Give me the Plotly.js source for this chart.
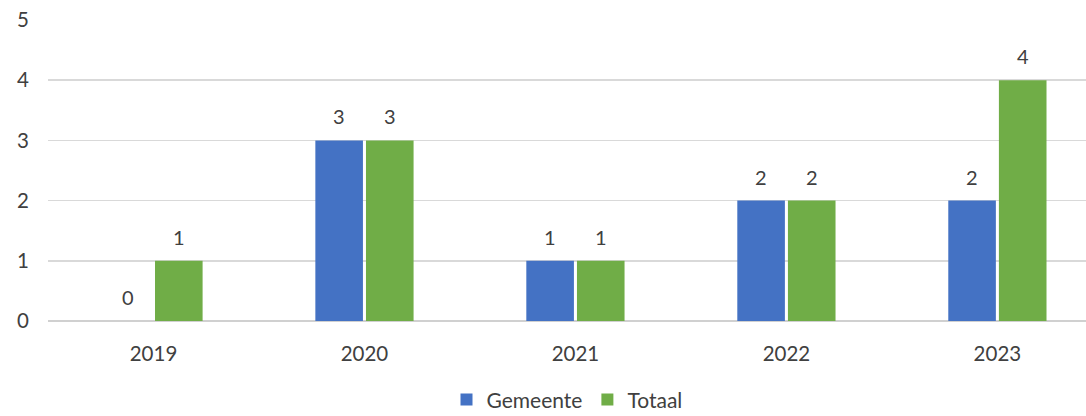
<!DOCTYPE html>
<html>
<head>
<meta charset="utf-8">
<script src="https://cdn.plot.ly/plotly-3.0.1.min.js"></script>
<style>html,body{margin:0;padding:0;background:#fff;overflow:hidden;}#chart{width:1086px;height:416px;}</style>
</head>
<body>
<div id="chart"></div>
<script>
const years = ['2019', '2020', '2021', '2022', '2023'];
const gemeente = [0, 3, 1, 2, 2];
const totaal = [1, 3, 1, 2, 4];
const seriesNames = ['Gemeente', 'Totaal'];
const seriesColors = ['#4472C4', '#70AD47'];
const yTicks = [0, 1, 2, 3, 4, 5];

const FONT = 'Lato, "Open Sans", sans-serif';
const series = [gemeente, totaal];

const traces = series.map((vals, i) => ({
  type: 'bar',
  name: seriesNames[i],
  x: years,
  y: vals,
  marker: {color: seriesColors[i]},
  hoverinfo: 'x+y'
}));

const annotations = [];
series.forEach((vals, i) => {
  vals.forEach((v, j) => {
    annotations.push({
      x: j + (i === 0 ? -0.12 : 0.12), y: v, xref: 'x', yref: 'y',
      text: String(v), showarrow: false,
      yshift: 24,
      yanchor: 'middle', xanchor: 'center',
      font: {family: FONT, size: 20, color: '#404040'}
    });
  });
});

const layout = {
  width: 1086, height: 416,
  margin: {l: 48, r: 0, t: 20, b: 95, autoexpand: false},
  paper_bgcolor: '#ffffff', plot_bgcolor: '#ffffff',
  barmode: 'group', bargap: 0.52, bargroupgap: 0.06,
  font: {family: FONT, size: 20, color: '#404040'},
  xaxis: {
    type: 'category', range: [-0.5, 4.42],
    showgrid: false, zeroline: false, showline: false,
    ticks: '', ticklabelstandoff: 18,
    tickfont: {family: FONT, size: 20.5, color: '#404040'}
  },
  yaxis: {
    range: [0, 5], tickvals: yTicks,
    showgrid: true, gridcolor: '#d9d9d9', gridwidth: 1.5,
    zeroline: true, zerolinecolor: '#d0d0d0', zerolinewidth: 1.5,
    showline: false, ticks: '', ticklabelstandoff: 18,
    tickfont: {family: FONT, size: 20.5, color: '#404040'}
  },
  showlegend: true,
  legend: {
    orientation: 'h', x: 0.5, xanchor: 'center', y: -0.262, yanchor: 'middle',
    font: {family: FONT, size: 21, color: '#404040'},
    itemwidth: 30, tracegroupgap: 0
  },
  annotations: annotations
};

Plotly.newPlot('chart', traces, layout, {displayModeBar: false, staticPlot: true});
</script>
</body>
</html>
